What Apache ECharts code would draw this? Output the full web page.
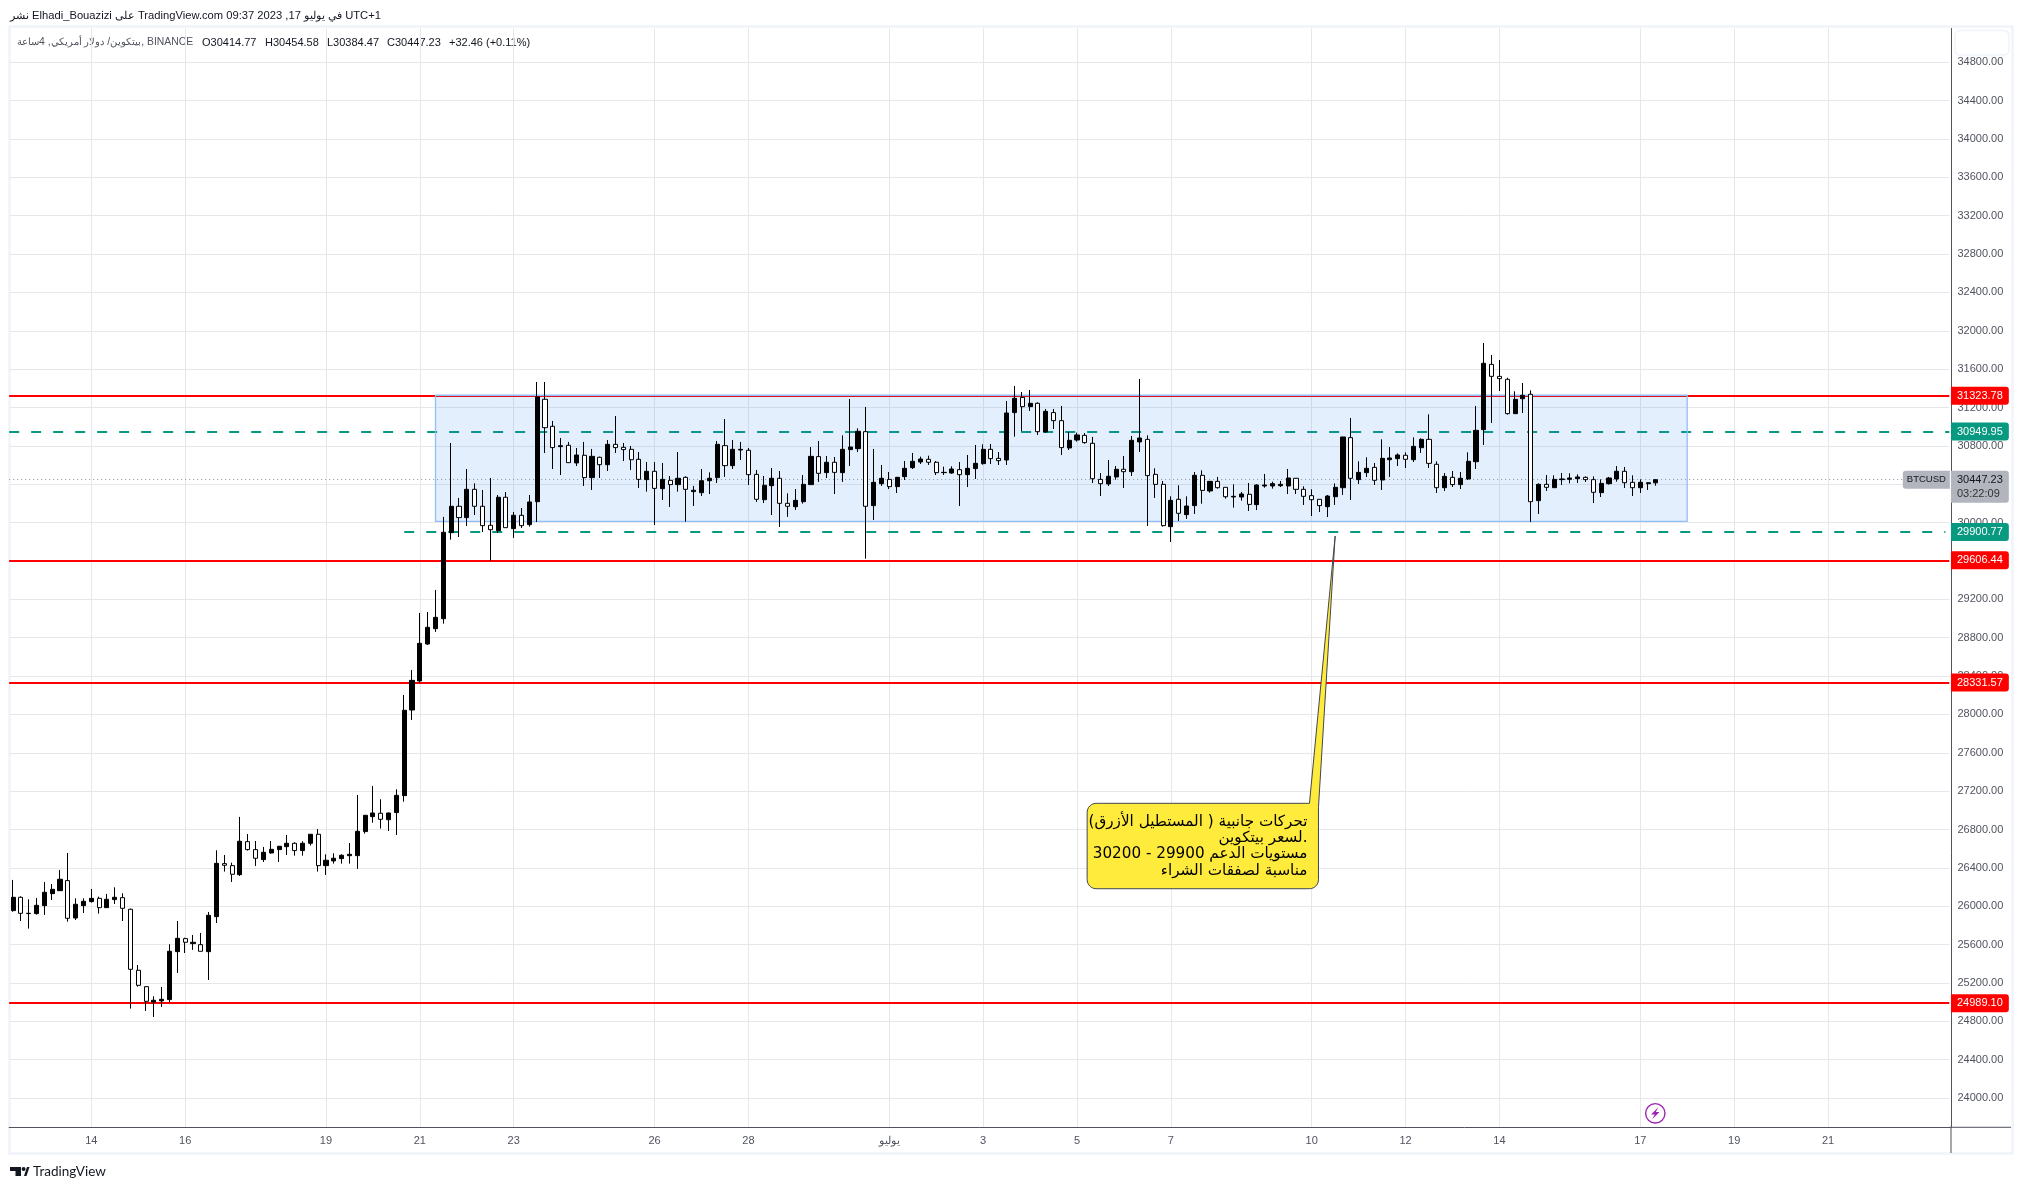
<!DOCTYPE html>
<html><head><meta charset="utf-8">
<style>html,body{margin:0;padding:0;background:#fff}#c{width:2023px;height:1189px}</style>
<script src="https://cdn.jsdelivr.net/npm/echarts@6/dist/echarts.min.js"></script>
</head><body><div id="c"></div>
<script>
const opens=[25954,26093,25923,25923,26006,26131,26162,26267,25877,26006,
26048,26082,25985,26069,26089,25968,25332,25161,25001,25012,
25026,25526,25662,25610,25599,25526,25891,26444,26423,26329,
26673,26590,26486,26555,26590,26621,26656,26580,26656,26750,
26423,26472,26496,26527,26527,26778,26934,26969,26902,26976,
27153,28046,28349,28734,28894,28998,29895,30170,30052,30347,
30170,29972,29916,30264,29937,30076,29979,30218,31286,31004,
30792,30806,30622,30702,30469,30681,30604,30816,30785,30764,
30660,30448,30535,30354,30441,30396,30472,30323,30312,30437,
30469,30802,30594,30757,30754,30503,30239,30385,30462,30201,
30166,30218,30396,30688,30521,30629,30521,30761,30771,30948,
30177,30406,30451,30375,30479,30573,30632,30660,30629,30521,
30517,30552,30500,30563,30615,30764,30670,30653,31147,31306,
31209,31244,30945,31147,31063,30778,30861,30910,30827,30451,
30403,30476,30556,30531,30841,30868,30503,30399,29958,30243,
30083,30177,30493,30330,30430,30368,30267,30267,30295,30187,
30382,30382,30385,30382,30462,30347,30281,30243,30166,30270,
30364,30886,30448,30521,30576,30444,30656,30667,30702,30656,
30781,30868,30608,30364,30472,30396,30455,30635,30969,31650,
31525,31494,31136,31292,31338,30229,30399,30364,30448,30451,
30458,30472,30448,30312,30406,30455,30535,30420,30364,30406,
30414.77];
const closes=[26093,25926,25926,26009,26145,26176,26281,25874,26020,26051,
26082,25985,26072,26093,25978,25342,25175,25008,25019,25029,
25530,25665,25624,25624,25530,25905,26447,26427,26333,26677,
26590,26500,26562,26593,26625,26656,26580,26656,26750,26423,
26479,26500,26531,26541,26781,26948,26972,26906,26972,27156,
28043,28355,28741,28908,29012,29899,30170,30052,30347,30170,
29968,29926,30264,29947,30076,29968,30215,31310,30990,30782,
30802,30625,30705,30469,30691,30604,30816,30782,30761,30656,
30451,30535,30357,30451,30396,30462,30347,30337,30437,30462,
30816,30594,30764,30764,30500,30243,30389,30462,30201,30170,
30232,30399,30691,30514,30629,30524,30764,30788,30952,30170,
30420,30462,30375,30472,30566,30639,30663,30629,30521,30524,
30559,30500,30566,30618,30764,30667,30646,31143,31296,31209,
31244,30948,31160,31063,30782,30858,30914,30834,30458,30406,
30483,30556,30531,30858,30882,30490,30399,29968,30232,30097,
30173,30493,30336,30430,30364,30270,30274,30298,30190,30392,
30392,30406,30399,30465,30347,30274,30239,30177,30277,30368,
30893,30462,30524,30566,30441,30670,30674,30705,30660,30795,
30868,30618,30364,30482,30396,30462,30639,30962,31661,31525,
31501,31136,31285,31327,30218,30399,30368,30451,30455,30465,
30476,30448,30316,30409,30465,30535,30416,30364,30420,30416,
30447.23];
const highs=[26274,26103,26072,26086,26253,26232,26378,26555,26082,26082,
26180,26100,26128,26197,26135,25975,25387,25165,25061,25158,
25603,25846,25672,25700,25721,25940,26583,26534,26454,26931,
26753,26680,26618,26680,26628,26743,26666,26677,26750,26805,
26541,26552,26541,26659,27160,26951,27254,27115,26976,27219,
28203,28463,29058,29068,29297,30059,30830,30257,30559,30410,
30340,30465,30288,30319,30111,30152,30288,31466,31466,31060,
30882,30841,30778,30841,30768,30688,30861,31112,30830,30799,
30736,30632,30632,30622,30486,30736,30483,30382,30559,30524,
30851,31080,30861,30841,30778,30549,30486,30569,30538,30305,
30350,30496,30788,30851,30695,30684,30910,31289,30983,31206,
30768,30601,30528,30476,30642,30726,30688,30698,30642,30583,
30587,30632,30705,30809,30816,30820,30736,31268,31425,31362,
31383,31254,31185,31185,31216,30945,30938,30934,30893,30517,
30653,30590,30695,30903,31498,30910,30566,30434,30274,30389,
30274,30528,30545,30434,30476,30371,30399,30319,30413,30399,
30507,30427,30434,30559,30465,30378,30347,30243,30288,30409,
30893,31091,30639,30681,30622,30868,30788,30722,30733,30889,
30879,31129,30639,30517,30538,30528,30733,31216,31873,31748,
31696,31511,31369,31456,31379,30409,30496,30493,30517,30514,
30503,30482,30482,30451,30476,30590,30580,30493,30451,30420,
30454.58];
const lows=[25943,25846,25766,25912,25909,26065,26162,25839,25856,25929,
26037,25923,25985,26023,25846,24932,25161,24908,24845,24949,
24998,25304,25512,25544,25530,25231,25825,26361,26253,26315,
26580,26420,26461,26548,26461,26534,26527,26527,26632,26361,
26326,26444,26444,26444,26388,26757,26871,26809,26784,26743,
27090,27942,28324,28724,28860,28946,29822,29850,29965,30079,
29902,29600,29892,29947,29840,29944,29958,30006,30726,30559,
30496,30625,30590,30382,30340,30465,30538,30726,30642,30549,
30361,30323,29975,30236,30163,30323,30010,30173,30277,30298,
30413,30476,30559,30653,30392,30215,30204,30079,29954,30059,
30132,30198,30396,30424,30465,30298,30424,30590,30736,29624,
30027,30382,30350,30309,30444,30559,30611,30601,30496,30496,
30510,30173,30371,30455,30604,30611,30601,30601,30896,30952,
31164,30914,30938,30976,30705,30757,30844,30823,30413,30277,
30382,30448,30361,30486,30736,29965,30257,29958,29798,30017,
30038,30090,30197,30312,30354,30250,30156,30229,30121,30131,
30364,30354,30371,30298,30298,30184,30069,30111,30058,30184,
30288,30236,30403,30476,30392,30340,30476,30590,30569,30632,
30726,30569,30309,30330,30371,30350,30444,30559,30809,31039,
31372,31126,31136,31143,30006,30090,30330,30364,30392,30409,
30413,30423,30204,30267,30396,30427,30361,30277,30309,30340,
30384.47];

const tickIndexes=[10,22,40,52,64,82,94,112,124,136,148,166,178,190,208,220,232];
const tickLabels=['14','16','19','21','23','26','28','يوليو','3','5','7','10','12','14','17','19','21'];
const priceTicks=[24000,24400,24800,25200,25600,26000,26400,26800,27200,27600,28000,28400,28800,29200,29600,30000,30400,30800,31200,31600,32000,32400,32800,33200,33600,34000,34400,34800];
const redLevels=[31323.78,29606.44,28331.57,24989.10];
const greenLevels=[30949.95,29900.77];
const lastPrice=30447.23;
const lastCountdown='03:22:09';
const boxTop=31328, boxBottom=30013;
const calloutTip=[169,29860];
const calloutLines=['تحركات جانبية ( المستطيل الأزرق)','لسعر بيتكوين.','مستويات الدعم 29900 - 30200','مناسبة لصفقات الشراء'];
const headerLine='نشر Elhadi_Bouazizi على TradingView.com 09:37 2023 ,17 في يوليو UTC+1';
const symbolLine='بيتكوين/ دولار أمريكي, 4ساعة, BINANCE';
const ohlcTexts=[['O30414.77',202],['H30454.58',265],['L30384.47',327],['C30447.23',387],['+32.46 (+0.11%)',449]];

const BARS=248;
const categories=Array.from({length:BARS},(_,i)=>String(i));
const candles=opens.map((o,i)=>[o,closes[i],lows[i],highs[i]]);
const RED='#ff0000',GREEN='#089981',AXIS='#50535e';
const FONT='"Liberation Sans",Arial,sans-serif';
const isTick=i=>tickIndexes.includes(i);

const tag=(bg,fmt)=>({show:true,position:'end',distance:1.7,formatter:fmt,backgroundColor:bg,color:'#fff',
  fontFamily:FONT,fontSize:11,padding:[3.5,6,3.5,6],borderRadius:[0,3,3,0]});

const chart=echarts.init(document.getElementById('c'),null,{renderer:'canvas',width:2023,height:1189});
const option={
 animation:false,backgroundColor:'#fff',
 grid:{left:9.16,top:28.5,width:1940.1,height:1098.8,containLabel:false},
 xAxis:{type:'category',data:categories,boundaryGap:true,
  axisLine:{show:true,lineStyle:{color:AXIS,width:1}},axisTick:{show:false,alignWithLabel:true},
  axisLabel:{show:true,interval:(i)=>isTick(i),formatter:(v,i)=>tickLabels[tickIndexes.indexOf(i)]||'',color:AXIS,fontFamily:FONT,fontSize:11,margin:8,hideOverlap:false},
  splitLine:{show:true,interval:(i)=>isTick(i),alignWithLabel:true,lineStyle:{color:'#e6e7ea',width:1}}},
 yAxis:{type:'value',position:'right',offset:1.7,min:23694.5,max:35152.2,scale:true,
  axisLine:{show:true,onZero:false,lineStyle:{color:AXIS,width:1}},
  axisTick:{show:false,customValues:priceTicks},
  axisLabel:{show:true,customValues:priceTicks,formatter:v=>v.toFixed(2),color:AXIS,fontFamily:FONT,fontSize:11,margin:6.5},
  splitLine:{show:true,lineStyle:{color:'#e6e7ea',width:1}}},
 series:[
  {type:'line',name:'levels',z:2,data:[],silent:true,symbol:'none',
   markLine:{silent:true,symbol:'none',animation:false,precision:2,z:1,data:[
    ...redLevels.map(v=>({yAxis:v,lineStyle:{color:RED,width:2,type:'solid'},label:tag(RED,v.toFixed(2))})),
    {yAxis:greenLevels[0],lineStyle:{color:GREEN,width:2,type:[10,12]},label:tag(GREEN,greenLevels[0].toFixed(2))},
    [{coord:[50,greenLevels[1]],lineStyle:{color:GREEN,width:2,type:[10,12]},label:{show:false}},{coord:[247,greenLevels[1]]}],
    {yAxis:greenLevels[1],lineStyle:{width:0,color:'transparent'},label:tag(GREEN,greenLevels[1].toFixed(2))},
    {yAxis:lastPrice,lineStyle:{color:'#9598a1',width:1,type:[1,3]},
     label:{show:true,position:'end',distance:1.7,offset:[0,7],formatter:'{a|'+lastPrice.toFixed(2)+'}\n{b|'+lastCountdown+'}',backgroundColor:'#b2b5be',padding:[2,6,2,6],borderRadius:[0,3,3,0],
      rich:{a:{color:'#131722',fontFamily:FONT,fontSize:11,lineHeight:14},b:{color:'#333',fontFamily:FONT,fontSize:11,lineHeight:14}}}}
   ]},
   markPoint:{silent:true,symbol:'circle',symbolSize:1,z:1,itemStyle:{color:'transparent'},data:[{coord:[247,lastPrice],
    label:{show:true,position:'left',distance:0,offset:[5,0],formatter:'BTCUSD',color:'#131722',fontFamily:FONT,fontSize:9.5,backgroundColor:'#b2b5be',padding:[4,4,4,4],borderRadius:[3,0,0,3]}}]}
  },
  {type:'line',name:'box',z:3,data:[],silent:true,symbol:'none',
   markArea:{silent:true,z:2,itemStyle:{color:'rgba(30,120,245,0.12)',borderColor:'#90bff9',borderWidth:1.3},
    data:[[{coord:[54,boxTop]},{coord:[214,boxBottom]}]]}},
  {type:'candlestick',name:'BTCUSD',z:4,data:candles,barWidth:4.6,silent:true,
   itemStyle:{color:'#000',color0:'#fff',borderColor:'#000',borderColor0:'#000',borderWidth:1}},
  {type:'custom',name:'callout',z:6,silent:true,coordinateSystem:'cartesian2d',data:[calloutTip],encode:{x:0,y:1},clip:false,
   renderItem:(p,api)=>{
    const t=api.coord([api.value(0),api.value(1)]);
    const L=t[0]-248,R=t[0]-16.7,T=t[1]+267.3,B=t[1]+352.7,r=9;
    const pts=[];
    const arc=(cx,cy,a0)=>{for(let k=0;k<=6;k++){const a=a0+k*Math.PI/12;pts.push([cx+r*Math.cos(a),cy+r*Math.sin(a)]);}};
    arc(L+r,T+r,Math.PI);
    pts.push([R-9,T],[t[0],t[1]],[R,T+4]);
    arc(R-r,B-r,0);
    arc(L+r,B-r,Math.PI/2);
    return {type:'group',children:[
     {type:'polygon',shape:{points:pts},style:{fill:'#ffeb3b',stroke:'#434651',lineWidth:1}},
     ...calloutLines.map((s,k)=>({type:'text',style:{text:s,x:R-11,y:T+18.5+k*16.3,align:'right',verticalAlign:'middle',fill:'#000',font:'15.2px "DejaVu Sans",sans-serif'}}))
    ]};
   }}
 ],
 graphic:{elements:[
  {type:'rect',z:-1,shape:{x:9.5,y:26.5,width:2003,height:1127},style:{fill:'none',stroke:'#f0f3fa',lineWidth:2.5},silent:true},
  {type:'line',shape:{x1:1949,y1:1127.3,x2:2011,y2:1127.3},style:{stroke:AXIS,lineWidth:1},silent:true},
  {type:'line',shape:{x1:1951,y1:1127,x2:1951,y2:1153},style:{stroke:AXIS,lineWidth:1},silent:true},
  {type:'rect',shape:{x:1955,y:30.5,width:54,height:24.5,r:5},style:{fill:'#fff',stroke:'#f0f3fa',lineWidth:1.5},silent:true},
  {type:'text',style:{text:headerLine,x:10,y:15.5,verticalAlign:'middle',fill:'#131722',font:'11.2px '+FONT},silent:true},
  {type:'text',style:{text:symbolLine,x:17,y:42.5,verticalAlign:'middle',fill:'#50535e',font:'10.4px '+FONT},silent:true},
  ...ohlcTexts.map(([s,x])=>({type:'text',style:{text:s,x:x,y:42.5,verticalAlign:'middle',fill:'#131722',font:'11px '+FONT},silent:true})),
  {type:'text',style:{text:'TradingView',x:33,y:1172,verticalAlign:'middle',fill:'#131722',font:'13.5px "Lato",'+FONT},silent:true},
  {type:'polygon',shape:{points:[[10,1167],[21,1167],[21,1176],[15.5,1176],[15.5,1171],[10,1171]]},style:{fill:'#131722'},silent:true},
  {type:'circle',shape:{cx:23.6,cy:1169,r:2},style:{fill:'#131722'},silent:true},
  {type:'polygon',shape:{points:[[24,1176],[27,1167],[29.5,1167],[26.5,1176]]},style:{fill:'#131722'},silent:true},
  {type:'circle',shape:{cx:1655.3,cy:1113.3,r:9.7},style:{fill:'#fff',stroke:'#9c27b0',lineWidth:1.4},silent:true},
  {type:'polygon',shape:{points:[[1658.5,1107],[1651,1114.5],[1654.8,1114.5],[1652,1119.5],[1659.5,1112],[1655.8,1112]]},style:{fill:'#9c27b0'},silent:true}
 ]}
};
chart.setOption(option);
</script></body></html>
